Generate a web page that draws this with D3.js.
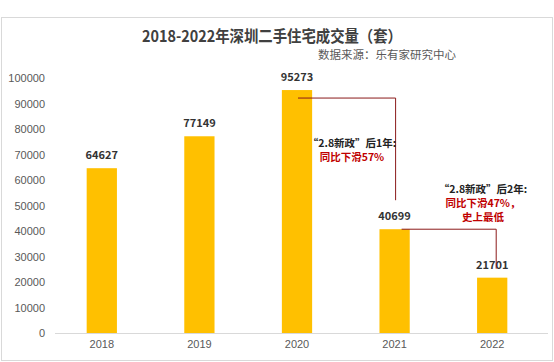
<!DOCTYPE html>
<html><head><meta charset="utf-8">
<script src="https://cdn.jsdelivr.net/npm/d3@7"></script>
<style>body{margin:0;background:#fff}svg{display:block;font-family:"Noto Sans CJK SC","Noto Sans",sans-serif}</style>
</head><body>
<svg id="c" width="554" height="362"></svg>
<script>
const years = ["2018","2019","2020","2021","2022"];
const volumes = [64627, 77149, 95273, 40699, 21701];
const yTicks = [0,10000,20000,30000,40000,50000,60000,70000,80000,90000,100000];
const title = "2018-2022年深圳二手住宅成交量（套）";
const source = "数据来源：乐有家研究中心";
const notes = [
  {from:2, to:3, lines:[["“2.8新政”后1年:","#222"],["同比下滑57%","#C00000"]]},
  {from:3, to:4, lines:[["“2.8新政”后2年:","#222"],["同比下滑47%，","#C00000"],["史上最低","#C00000"]]}
];

const svg = d3.select("#c");
svg.append("rect").attr("x",1.5).attr("y",17.5).attr("width",551).attr("height",343)
  .attr("fill","#fff").attr("stroke","#d9d9d9");

const x = d3.scaleBand().domain(years).range([53,541]).paddingInner(0.69).paddingOuter(0.345);
const y = d3.scaleLinear().domain([0,100000]).range([333,78]);

svg.append("text").attr("x",272).attr("y",42).attr("text-anchor","middle")
  .attr("font-size",16).attr("font-weight","bold").attr("fill","#404040")
  .attr("textLength",260).attr("lengthAdjust","spacingAndGlyphs").text(title);
svg.append("text").attr("x",387).attr("y",59).attr("text-anchor","middle")
  .attr("font-size",11.5).attr("fill","#595959").text(source);

// y axis labels
const ya = svg.append("g").attr("transform","translate(45,0)")
  .call(d3.axisLeft(y).tickValues(yTicks).tickSize(0).tickPadding(0).tickFormat(d3.format("d")));
ya.select(".domain").remove();
ya.selectAll("text").attr("font-size",11).attr("fill","#595959").attr("font-family","inherit");

// x axis
const xa = svg.append("g").attr("transform","translate(0,333)")
  .call(d3.axisBottom(x).tickSize(0).tickPadding(7));
xa.select(".domain").attr("stroke","#d9d9d9").attr("d","M55,0.5H548");
xa.selectAll("text").attr("font-size",11).attr("fill","#595959").attr("font-family","inherit");

// bars
svg.selectAll("rect.bar").data(volumes).join("rect").attr("class","bar")
  .attr("x",(d,i)=>x(years[i])).attr("width",x.bandwidth())
  .attr("y",d=>y(d)).attr("height",d=>y(0)-y(d)).attr("fill","#FFC000");

// value labels
svg.selectAll("text.val").data(volumes).join("text").attr("class","val")
  .attr("x",(d,i)=>x(years[i])+x.bandwidth()/2).attr("y",d=>y(d)-9)
  .attr("text-anchor","middle").attr("font-size",11).attr("font-weight","bold").attr("fill","#333")
  .text(d=>d);

// annotations
const noteText = [{cx:352, cy:147},{cx:483, cy:193}];
notes.forEach((n,k)=>{
  const x0 = x(years[n.from]) + x.bandwidth()/2 + (k===0?1:7);
  const y0 = y(volumes[n.from]) + (k===0?8:0);
  const x1 = x(years[n.to]) + x.bandwidth()/2 + (k===0?1:4);
  const y1 = k===0 ? y(volumes[n.to]) - 29 : y(volumes[n.to]) - 9;
  svg.append("path").attr("d",`M${x0},${y0}H${x1}V${y1}`)
    .attr("fill","none").attr("stroke","#8B1A1A").attr("stroke-width",1);
  n.lines.forEach((l,j)=>{
    svg.append("text").attr("x",noteText[k].cx).attr("y",noteText[k].cy+j*14).attr("text-anchor","middle")
      .attr("font-size",10.5).attr("font-weight","bold").attr("fill",l[1]).text(l[0]);
  });
});
</script>
</body></html>
